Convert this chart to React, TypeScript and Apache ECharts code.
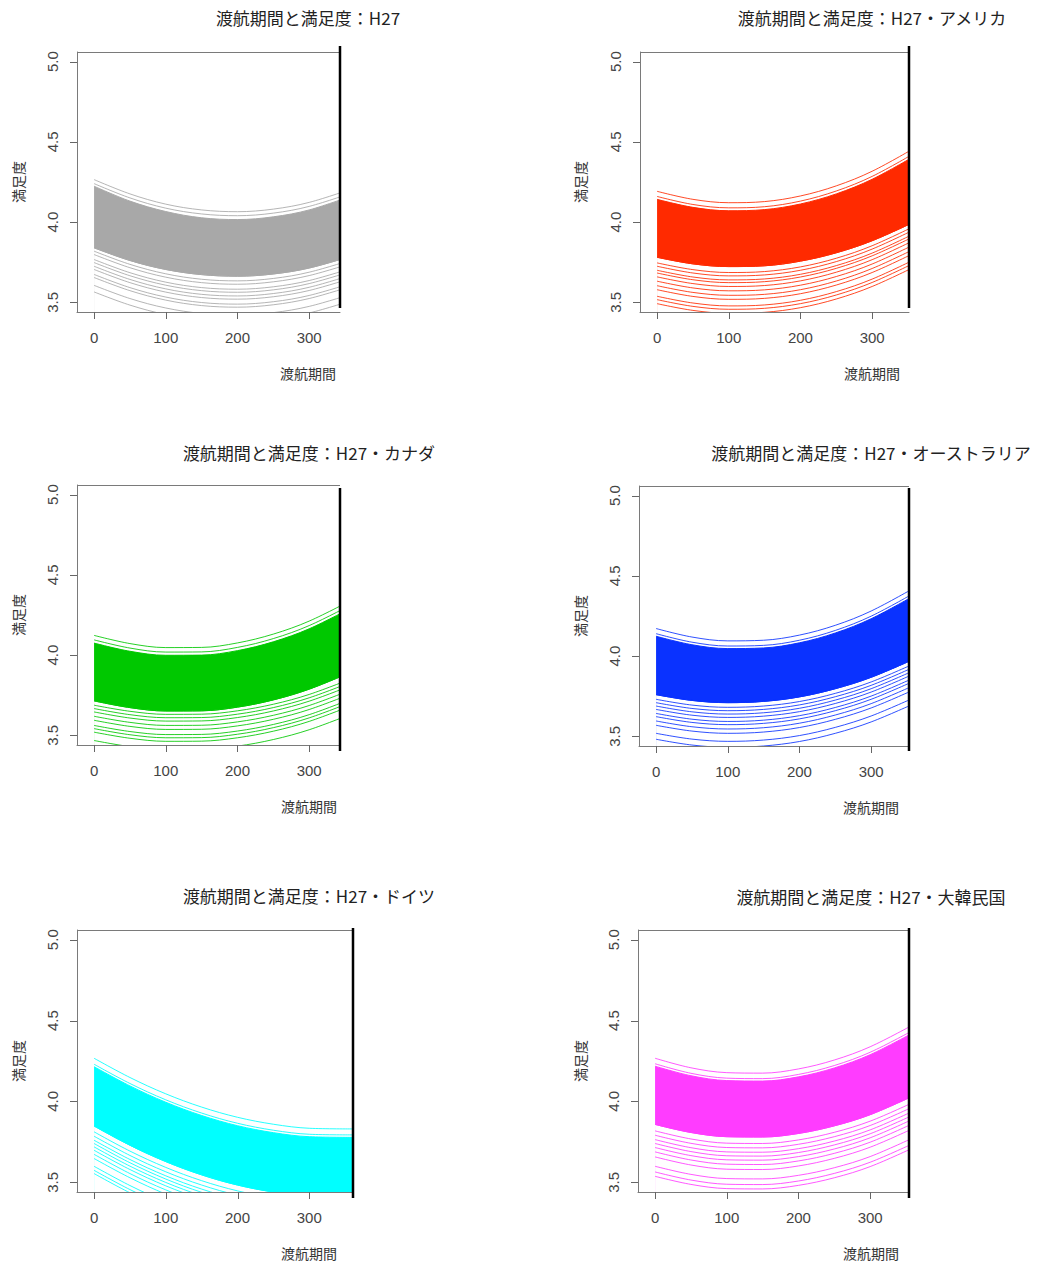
import React, { useEffect, useRef } from "react";
import * as echarts from "echarts";

// ---------- data ----------
const X = [0, 50, 100, 150, 200, 250, 300, 360];
const X_TICKS = [0, 100, 200, 300];
const Y_TICKS = [3.5, 4.0, 4.5, 5.0];

const TITLES = [
  "渡航期間と満足度：H27",
  "渡航期間と満足度：H27・アメリカ",
  "渡航期間と満足度：H27・カナダ",
  "渡航期間と満足度：H27・オーストラリア",
  "渡航期間と満足度：H27・ドイツ",
  "渡航期間と満足度：H27・大韓民国",
];
const X_NAME = "渡航期間";
const Y_NAME = "満足度";
const COLORS = ["#a8a8a8", "#ff2a00", "#00c800", "#0a32ff", "#00ffff", "#ff3cff"];

// Panel 1: H27 (all)
const P1_UPPER = [
  [4.265, 4.176, 4.112, 4.076, 4.065, 4.081, 4.123, 4.208],
  [4.24, 4.151, 4.087, 4.051, 4.04, 4.056, 4.098, 4.183],
];
const P1_BAND_TOP = [4.224, 4.131, 4.066, 4.027, 4.016, 4.033, 4.076, 4.165];
const P1_BAND_BOTTOM = [3.84, 3.761, 3.705, 3.673, 3.663, 3.677, 3.714, 3.79];
const P1_LOWER = [
  [3.819, 3.737, 3.678, 3.644, 3.634, 3.649, 3.688, 3.766],
  [3.798, 3.716, 3.657, 3.623, 3.613, 3.628, 3.667, 3.745],
  [3.767, 3.685, 3.626, 3.592, 3.582, 3.597, 3.636, 3.714],
  [3.748, 3.666, 3.607, 3.573, 3.563, 3.578, 3.617, 3.695],
  [3.725, 3.643, 3.584, 3.55, 3.54, 3.555, 3.594, 3.672],
  [3.705, 3.623, 3.564, 3.53, 3.52, 3.535, 3.574, 3.652],
  [3.674, 3.592, 3.533, 3.499, 3.489, 3.504, 3.543, 3.621],
  [3.655, 3.573, 3.514, 3.48, 3.47, 3.485, 3.524, 3.602],
  [3.606, 3.524, 3.465, 3.431, 3.421, 3.436, 3.475, 3.553],
  [3.565, 3.483, 3.424, 3.39, 3.38, 3.395, 3.434, 3.512],
];

// Panel 2: アメリカ
const P2_UPPER = [
  [4.192, 4.142, 4.121, 4.128, 4.163, 4.226, 4.317, 4.464],
  [4.16, 4.11, 4.089, 4.096, 4.131, 4.194, 4.285, 4.432],
];
const P2_BAND_TOP = [4.142, 4.092, 4.071, 4.078, 4.113, 4.176, 4.267, 4.414];
const P2_BAND_BOTTOM = [3.781, 3.74, 3.723, 3.728, 3.757, 3.809, 3.884, 4.004];
const P2_LOWER = [
  [3.746, 3.704, 3.686, 3.692, 3.721, 3.775, 3.853, 3.977],
  [3.725, 3.683, 3.665, 3.671, 3.7, 3.754, 3.832, 3.956],
  [3.7, 3.658, 3.64, 3.646, 3.675, 3.729, 3.807, 3.931],
  [3.683, 3.641, 3.623, 3.629, 3.658, 3.712, 3.79, 3.914],
  [3.659, 3.617, 3.599, 3.605, 3.634, 3.688, 3.766, 3.89],
  [3.632, 3.59, 3.572, 3.578, 3.607, 3.661, 3.739, 3.863],
  [3.604, 3.562, 3.544, 3.55, 3.579, 3.633, 3.711, 3.835],
  [3.579, 3.537, 3.519, 3.525, 3.554, 3.608, 3.686, 3.81],
  [3.538, 3.496, 3.478, 3.484, 3.513, 3.567, 3.645, 3.769],
  [3.517, 3.475, 3.457, 3.463, 3.492, 3.546, 3.624, 3.748],
  [3.492, 3.45, 3.432, 3.438, 3.467, 3.521, 3.599, 3.723],
];

// Panel 3: カナダ
const P3_UPPER = [
  [4.123, 4.072, 4.047, 4.048, 4.076, 4.131, 4.212, 4.345],
  [4.095, 4.044, 4.019, 4.02, 4.048, 4.103, 4.184, 4.317],
];
const P3_BAND_TOP = [4.075, 4.024, 3.999, 4.0, 4.028, 4.083, 4.164, 4.297];
const P3_BAND_BOTTOM = [3.715, 3.673, 3.652, 3.653, 3.676, 3.721, 3.788, 3.897];
const P3_LOWER = [
  [3.688, 3.65, 3.631, 3.632, 3.653, 3.694, 3.755, 3.855],
  [3.667, 3.629, 3.61, 3.611, 3.632, 3.673, 3.734, 3.834],
  [3.646, 3.608, 3.589, 3.59, 3.611, 3.652, 3.713, 3.813],
  [3.619, 3.581, 3.562, 3.563, 3.584, 3.625, 3.686, 3.786],
  [3.594, 3.556, 3.537, 3.538, 3.559, 3.6, 3.661, 3.761],
  [3.562, 3.524, 3.505, 3.506, 3.527, 3.568, 3.629, 3.729],
  [3.542, 3.504, 3.485, 3.486, 3.507, 3.548, 3.609, 3.709],
  [3.52, 3.482, 3.463, 3.464, 3.485, 3.526, 3.587, 3.687],
  [3.468, 3.43, 3.411, 3.412, 3.433, 3.474, 3.535, 3.635],
];

// Panel 4: オーストラリア
const P4_UPPER = [
  [4.172, 4.119, 4.095, 4.099, 4.131, 4.192, 4.281, 4.425],
  [4.14, 4.087, 4.063, 4.067, 4.099, 4.16, 4.249, 4.393],
];
const P4_BAND_TOP = [4.124, 4.071, 4.047, 4.051, 4.083, 4.144, 4.233, 4.377];
const P4_BAND_BOTTOM = [3.76, 3.724, 3.71, 3.718, 3.746, 3.797, 3.868, 3.982];
const P4_LOWER = [
  [3.731, 3.695, 3.681, 3.689, 3.717, 3.768, 3.839, 3.953],
  [3.71, 3.674, 3.66, 3.668, 3.696, 3.747, 3.818, 3.932],
  [3.689, 3.653, 3.639, 3.647, 3.675, 3.726, 3.797, 3.911],
  [3.668, 3.632, 3.618, 3.626, 3.654, 3.705, 3.776, 3.89],
  [3.643, 3.607, 3.593, 3.601, 3.629, 3.68, 3.751, 3.865],
  [3.623, 3.587, 3.573, 3.581, 3.609, 3.66, 3.731, 3.845],
  [3.596, 3.56, 3.546, 3.554, 3.582, 3.633, 3.704, 3.818],
  [3.569, 3.533, 3.519, 3.527, 3.555, 3.606, 3.677, 3.791],
  [3.519, 3.483, 3.469, 3.477, 3.505, 3.556, 3.627, 3.741],
  [3.482, 3.446, 3.432, 3.44, 3.468, 3.519, 3.59, 3.704],
];

// Panel 5: ドイツ
const P5_UPPER = [
  [4.267, 4.148, 4.047, 3.965, 3.902, 3.859, 3.834, 3.83],
  [4.23, 4.111, 4.01, 3.928, 3.865, 3.822, 3.797, 3.793],
];
const P5_BAND_TOP = [4.215, 4.096, 3.995, 3.913, 3.85, 3.807, 3.782, 3.778];
const P5_BAND_BOTTOM = [3.848, 3.729, 3.628, 3.546, 3.483, 3.44, 3.415, 3.411];
const P5_LOWER = [
  [3.812, 3.693, 3.592, 3.51, 3.447, 3.404, 3.379, 3.375],
  [3.785, 3.666, 3.565, 3.483, 3.42, 3.377, 3.352, 3.348],
  [3.76, 3.641, 3.54, 3.458, 3.395, 3.352, 3.327, 3.323],
  [3.74, 3.621, 3.52, 3.438, 3.375, 3.332, 3.307, 3.303],
  [3.719, 3.6, 3.499, 3.417, 3.354, 3.311, 3.286, 3.282],
  [3.698, 3.579, 3.478, 3.396, 3.333, 3.29, 3.265, 3.261],
  [3.673, 3.554, 3.453, 3.371, 3.308, 3.265, 3.24, 3.236],
  [3.647, 3.528, 3.427, 3.345, 3.282, 3.239, 3.214, 3.21],
  [3.599, 3.48, 3.379, 3.297, 3.234, 3.191, 3.166, 3.162],
  [3.574, 3.455, 3.354, 3.272, 3.209, 3.166, 3.141, 3.137],
  [3.554, 3.435, 3.334, 3.252, 3.189, 3.146, 3.121, 3.117],
];

// Panel 6: 大韓民国
const P6_UPPER = [
  [4.267, 4.208, 4.178, 4.175, 4.201, 4.256, 4.338, 4.474],
  [4.233, 4.174, 4.144, 4.141, 4.167, 4.222, 4.304, 4.44],
];
const P6_BAND_TOP = [4.218, 4.159, 4.129, 4.126, 4.152, 4.207, 4.289, 4.425];
const P6_BAND_BOTTOM = [3.858, 3.808, 3.782, 3.78, 3.802, 3.849, 3.918, 4.034];
const P6_LOWER = [
  [3.818, 3.768, 3.742, 3.74, 3.762, 3.809, 3.878, 3.994],
  [3.791, 3.741, 3.715, 3.713, 3.735, 3.782, 3.851, 3.967],
  [3.764, 3.714, 3.688, 3.686, 3.708, 3.755, 3.824, 3.94],
  [3.74, 3.69, 3.664, 3.662, 3.684, 3.731, 3.8, 3.916],
  [3.715, 3.665, 3.639, 3.637, 3.659, 3.706, 3.775, 3.891],
  [3.688, 3.638, 3.612, 3.61, 3.632, 3.679, 3.748, 3.864],
  [3.657, 3.607, 3.581, 3.579, 3.601, 3.648, 3.717, 3.833],
  [3.599, 3.549, 3.523, 3.521, 3.543, 3.59, 3.659, 3.775],
  [3.564, 3.514, 3.488, 3.486, 3.508, 3.555, 3.624, 3.74],
  [3.537, 3.487, 3.461, 3.459, 3.481, 3.528, 3.597, 3.713],
];

const PANELS = [
  { upper: P1_UPPER, top: P1_BAND_TOP, bottom: P1_BAND_BOTTOM, lower: P1_LOWER },
  { upper: P2_UPPER, top: P2_BAND_TOP, bottom: P2_BAND_BOTTOM, lower: P2_LOWER },
  { upper: P3_UPPER, top: P3_BAND_TOP, bottom: P3_BAND_BOTTOM, lower: P3_LOWER },
  { upper: P4_UPPER, top: P4_BAND_TOP, bottom: P4_BAND_BOTTOM, lower: P4_LOWER },
  { upper: P5_UPPER, top: P5_BAND_TOP, bottom: P5_BAND_BOTTOM, lower: P5_LOWER },
  { upper: P6_UPPER, top: P6_BAND_TOP, bottom: P6_BAND_BOTTOM, lower: P6_LOWER },
];

// ---------- layout (pixels) ----------
const Y_MIN = 3.44;
const Y_MAX = 5.06;
const X_MIN = -23.8;
const TICK_LEN = 7;
const LAYOUT = [
  { left: 77, top: 52, width: 263, height: 260, xMax: 343, cx: 308, titleY: 17, yNameX: 18, xNameY: 373, cropX: 340, cropY1: 46, cropY2: 308 },
  { left: 640, top: 52, width: 269, height: 260, xMax: 351.4, cx: 872, titleY: 17, yNameX: 580, xNameY: 373, cropX: 909, cropY1: 46, cropY2: 308 },
  { left: 77, top: 485, width: 263, height: 260, xMax: 343, cx: 309, titleY: 452, yNameX: 18, xNameY: 806, cropX: 340, cropY1: 488, cropY2: 751 },
  { left: 639, top: 486, width: 270, height: 260, xMax: 352.8, cx: 871, titleY: 452, yNameX: 580, xNameY: 807, cropX: 909, cropY1: 488, cropY2: 751 },
  { left: 77, top: 930, width: 276, height: 262, xMax: 361, cx: 309, titleY: 895, yNameX: 18, xNameY: 1253, cropX: 353, cropY1: 928, cropY2: 1198 },
  { left: 638, top: 930, width: 271, height: 262, xMax: 354.2, cx: 871, titleY: 896, yNameX: 580, xNameY: 1253, cropX: 909, cropY1: 928, cropY2: 1198 },
];

const CJK = '"Noto Sans CJK JP", "Noto Sans", sans-serif';
const NUM = '"Liberation Sans", Arial, sans-serif';
const FRAME = "#7a7a7a";
const TICK = "#666666";

function buildOption() {
  const grid: any[] = [];
  const xAxis: any[] = [];
  const yAxis: any[] = [];
  const series: any[] = [];
  const graphic: any[] = [];

  LAYOUT.forEach((L, i) => {
    const color = COLORS[i];
    const P = PANELS[i];
    grid.push({ left: L.left, top: L.top, width: L.width, height: L.height, show: false, containLabel: false });
    xAxis.push({
      gridIndex: i,
      type: "value",
      position: "bottom",
      z: 10,
      min: X_MIN,
      max: L.xMax,
      axisLine: { show: true, onZero: false, lineStyle: { color: FRAME, width: 1 } },
      splitLine: { show: false },
      axisTick: { show: false },
      axisLabel: { show: true, customValues: X_TICKS, color: "#444", fontSize: 15, fontFamily: NUM, margin: 18 },
    });
    yAxis.push({
      gridIndex: i,
      type: "value",
      position: "left",
      z: 10,
      min: Y_MIN,
      max: Y_MAX,
      axisLine: { show: true, onZero: false, lineStyle: { color: FRAME, width: 1 } },
      splitLine: { show: false },
      axisTick: { show: false },
      axisLabel: {
        show: true,
        customValues: Y_TICKS,
        color: "#444",
        fontSize: 15,
        fontFamily: NUM,
        rotate: 90,
        align: "center",
        verticalAlign: "bottom",
        margin: 17,
        formatter: (v: number) => v.toFixed(1),
      },
    });

    const pts = (arr: number[]) => X.map((x, k) => [x, arr[k]]);
    const common = {
      type: "line",
      xAxisIndex: i,
      yAxisIndex: i,
      symbol: "none",
      smooth: 0.35,
      silent: true,
      clip: true,
    };
    // band: colour filled below the band top, then white filled below the band bottom
    series.push({
      ...common,
      z: 2,
      data: pts(P.top),
      lineStyle: { width: 1, color },
      areaStyle: { color, opacity: 1, origin: "start" },
    });
    series.push({
      ...common,
      z: 3,
      data: pts(P.bottom),
      lineStyle: { width: 1, color },
      areaStyle: { color: "#ffffff", opacity: 1, origin: "start" },
    });
    series.push({ ...common, z: 4, data: pts(P.bottom), lineStyle: { width: 1, color } });
    P.upper.forEach((arr) => {
      series.push({ ...common, z: 4, data: pts(arr), lineStyle: { width: 1, color, opacity: 0.85 } });
    });
    P.lower.forEach((arr) => {
      series.push({ ...common, z: 4, data: pts(arr), lineStyle: { width: 1, color, opacity: 0.85 } });
    });

    // tick marks (same linear mapping as the axes: min..max over the grid box)
    const bottom = L.top + L.height;
    X_TICKS.forEach((v) => {
      const px = Math.round(L.left + ((v - X_MIN) / (L.xMax - X_MIN)) * L.width) + 0.5;
      graphic.push({
        type: "line",
        z: 95,
        shape: { x1: px, y1: bottom, x2: px, y2: bottom + TICK_LEN },
        style: { stroke: TICK, lineWidth: 1 },
      });
    });
    Y_TICKS.forEach((v) => {
      const py = Math.round(bottom - ((v - Y_MIN) / (Y_MAX - Y_MIN)) * L.height) + 0.5;
      graphic.push({
        type: "line",
        z: 95,
        shape: { x1: L.left - TICK_LEN, y1: py, x2: L.left, y2: py },
        style: { stroke: TICK, lineWidth: 1 },
      });
    });

    // top edge of the plot box
    graphic.push({
      type: "line",
      z: 90,
      shape: { x1: L.left, y1: L.top + 0.5, x2: L.left + L.width, y2: L.top + 0.5 },
      style: { stroke: FRAME, lineWidth: 1.2 },
    });
    graphic.push({
      type: "text",
      x: L.cx,
      y: L.titleY,
      z: 100,
      style: { text: TITLES[i], fill: "#222", font: `17px ${CJK}`, textAlign: "center", textVerticalAlign: "middle" },
    });
    graphic.push({
      type: "text",
      x: L.cx,
      y: L.xNameY,
      z: 100,
      style: { text: X_NAME, fill: "#333", font: `14px ${CJK}`, textAlign: "center", textVerticalAlign: "middle" },
    });
    graphic.push({
      type: "text",
      x: L.yNameX,
      y: L.top + L.height / 2,
      rotation: Math.PI / 2,
      z: 100,
      style: { text: Y_NAME, fill: "#333", font: `14px ${CJK}`, textAlign: "center", textVerticalAlign: "middle" },
    });
    graphic.push({
      type: "line",
      z: 100,
      shape: { x1: L.cropX, y1: L.cropY1, x2: L.cropX, y2: L.cropY2 },
      style: { stroke: "#000", lineWidth: 2.5 },
    });
  });

  return {
    animation: false,
    backgroundColor: "#ffffff",
    grid,
    xAxis,
    yAxis,
    series,
    graphic: { elements: graphic },
  };
}

export default function App() {
  const ref = useRef<HTMLDivElement>(null);
  useEffect(() => {
    if (!ref.current) return;
    const chart = echarts.init(ref.current, undefined, { renderer: "svg" });
    chart.setOption(buildOption() as any);
    return () => chart.dispose();
  }, []);
  return (
    <div
      ref={ref}
      style={{ position: "absolute", left: 0, top: 0, width: 1038, height: 1264, background: "#fff" }}
    />
  );
}
